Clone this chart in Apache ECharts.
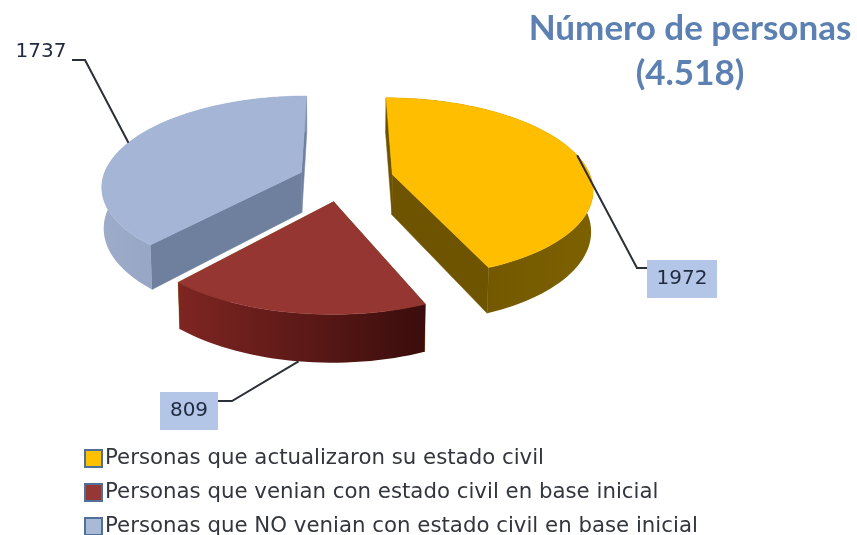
<!DOCTYPE html>
<html>
<head>
<meta charset="utf-8" />
<title></title>
<script type="text/javascript" src="https://cdn.jsdelivr.net/npm/echarts@6/dist/echarts.min.js"></script>
<style>
html,body{margin:0;padding:0;background:#fff;}
#main{width:857px;height:535px;}
</style>
</head>
<body>
<div id="main"></div>
<script>
// datos
var categories = [
	'Personas que actualizaron su estado civil',
	'Personas que venian con estado civil en base inicial',
	'Personas que NO venian con estado civil en base inicial'
];
var values = [1972, 809, 1737];
var titleLines = ['Número de personas', '(4.518)'];

// estilo de cada porcion
var topColors = ['#FFBE00', '#953633', '#A4B5D5'];
var legendColors = ['#FFC000', '#953735', '#A9B9D8'];
var explode = [0.26, 0.25, 0.22];
var rimColors = [
	['#6a5000', '#7d6100'],
	['#7f2522', '#3a0d0c'],
	['#9cacc9', '#8495b4']
];
var cutColors = ['#6e5400', '#6e5400', '#6f809e'];
// etiqueta: fraccion de la porcion donde sale la linea, codo, caja
var labels = [
	{frac: 0.49, z: 0, elbow: [637, 268], end: [647, 268], box: [647, 260, 70, 38], fill: '#B3C6E7'},
	{frac: 0.48, z: 1, elbow: [232, 401], end: [218, 401], box: [160, 392, 58, 38], fill: '#B3C6E7'},
	{frac: 0.50, z: 0, elbow: [85, 60], end: [72, 60], box: [8, 36, 66, 32], fill: null}
];

// proyeccion en perspectiva del pastel
var vx = 342, vy = 179, rx = 199, ry = 89, depth = 41, kY = 0.145, kZ = 0.008;

function project(X, Y, Z) {
	var p = 1 / (1 - kY * Y + kZ * Z);
	return [vx + rx * X * p, vy + (ry * Y + depth * Z) * p];
}

var total = 0;
for (var n = 0; n < values.length; n++) total += values[n];

function sliceAngles(idx) {
	var before = 0;
	for (var i = 0; i < idx; i++) before += values[i];
	return [before / total * 2 * Math.PI, (before + values[idx]) / total * 2 * Math.PI];
}

function slicePoint(idx, theta, r, Z) {
	var a = sliceAngles(idx), mid = (a[0] + a[1]) / 2;
	var ox = Math.sin(mid) * explode[idx], oy = -Math.cos(mid) * explode[idx];
	return project(ox + r * Math.sin(theta), oy - r * Math.cos(theta), Z);
}

function hGradient(c) {
	return {type: 'linear', x: 0, y: 0, x2: 1, y2: 0, colorStops: [{offset: 0, color: c[0]}, {offset: 1, color: c[1]}]};
}

function poly(points, fill) {
	return {type: 'polygon', shape: {points: points}, style: {fill: fill, stroke: fill.colorStops ? null : fill, lineWidth: 0.5}};
}

function renderSlice(params, api) {
	var idx = params.seriesIndex;
	var a = sliceAngles(idx);
	var arcTop = [], arcBottom = [];
	var steps = Math.ceil((a[1] - a[0]) / (Math.PI / 90));
	for (var i = 0; i <= steps; i++) {
		var t = a[0] + (a[1] - a[0]) * i / steps;
		arcTop.push(slicePoint(idx, t, 1, 0));
		arcBottom.push(slicePoint(idx, t, 1, 1));
	}
	var apexTop = slicePoint(idx, 0, 0, 0), apexBottom = slicePoint(idx, 0, 0, 1);
	var children = [];
	// paredes de corte
	children.push(poly([apexTop, arcTop[0], arcBottom[0], apexBottom], cutColors[idx]));
	children.push(poly([apexTop, arcTop[steps], arcBottom[steps], apexBottom], cutColors[idx]));
	// pared exterior
	children.push(poly(arcTop.concat(arcBottom.slice().reverse()), hGradient(rimColors[idx])));
	// cara superior
	children.push(poly([apexTop].concat(arcTop), topColors[idx]));
	// linea guia
	var l = labels[idx];
	var from = slicePoint(idx, a[0] + (a[1] - a[0]) * l.frac, 1, l.z);
	if (l.fill) {
		children.push({type: 'rect', shape: {x: l.box[0], y: l.box[1], width: l.box[2], height: l.box[3]}, style: {fill: l.fill}});
	}
	children.push({type: 'polyline', shape: {points: [from, l.elbow, l.end]}, style: {stroke: '#2b2f36', lineWidth: 2, fill: null}});
	children.push({type: 'text', style: {
		x: l.box[0] + l.box[2] / 2, y: l.box[1] + l.box[3] / 2,
		text: String(api.value(0)), align: 'center', verticalAlign: 'middle',
		font: '20px "DejaVu Sans"', fill: '#1f2a3f'
	}});
	return {type: 'group', children: children};
}

var series = [];
for (var s = 0; s < categories.length; s++) {
	series.push({
		type: 'custom',
		name: categories[s],
		coordinateSystem: 'none',
		renderItem: renderSlice,
		data: [[values[s]]],
		itemStyle: {color: legendColors[s]},
		silent: true,
		animation: false
	});
}

var chart = echarts.init(document.getElementById('main'), null, {renderer: 'canvas'});
chart.setOption({
	backgroundColor: '#fff',
	animation: false,
	title: {
		text: titleLines.join('\n'),
		left: 690,
		top: 6,
		padding: 0,
		textAlign: 'center',
		textStyle: {fontFamily: 'Lato', fontWeight: 'bold', fontSize: 35, lineHeight: 45, color: '#5C80B2'}
	},
	legend: {
		orient: 'vertical',
		left: 84,
		top: 448,
		height: 140,
		padding: 0,
		itemGap: 13,
		itemWidth: 17,
		itemHeight: 17,
		icon: 'rect',
		selectedMode: false,
		itemStyle: {borderColor: '#50709A', borderWidth: 2},
		textStyle: {fontFamily: 'DejaVu Sans', fontSize: 21.3, color: '#33363d', padding: [0, 0, 0, -2]},
		data: categories
	},
	series: series
});
</script>
</body>
</html>
